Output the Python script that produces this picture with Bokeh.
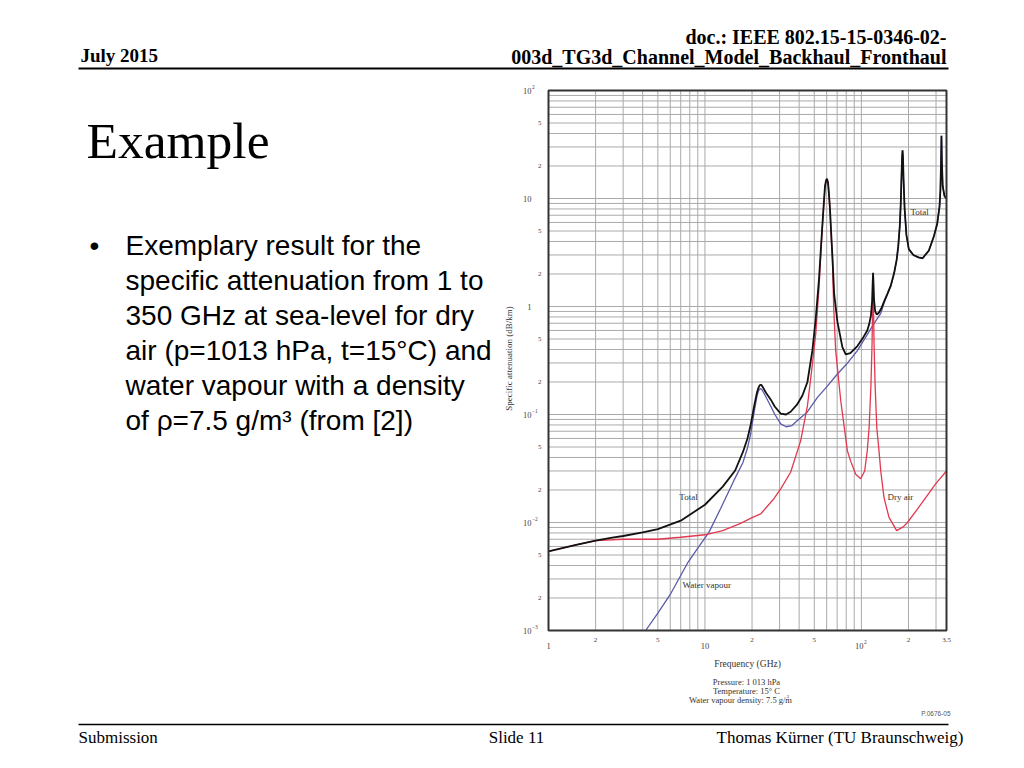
import math
from bokeh.plotting import figure
from bokeh.models import Range1d, LinearScale
from bokeh.core.properties import value
from bokeh.embed import file_html
from bokeh.resources import INLINE

# ---------------- data ----------------
dry_freq = [1, 1.5, 2, 3, 5, 7, 10, 13, 16.9, 20, 22.7, 27.6, 30.5, 35.3, 40.9,
            45.2, 48.6, 51.1, 53.6, 55, 56, 57.2, 58.5, 59.5, 60.3, 61.2, 62, 63,
            64, 65.3, 66.5, 68.5, 73.8, 81.4, 85.4, 92, 99, 105, 109, 112, 115,
            117, 118, 118.75, 119.5, 120.5, 122.5, 125.5, 129.6, 133, 139.4, 150,
            168, 185, 197, 230, 264, 300, 350]
dry_att = [0.0054, 0.0062, 0.0068, 0.0070, 0.0070, 0.0073, 0.0077, 0.0084, 0.0098,
           0.0111, 0.0120, 0.0166, 0.0205, 0.0292, 0.057, 0.12, 0.29, 0.56, 1.5,
           3.0, 4.8, 7.8, 12.5, 14.3, 14.9, 13.9, 11.0, 7.8, 4.8, 2.7, 1.0, 0.39,
           0.134, 0.046, 0.037, 0.028, 0.0254, 0.030, 0.046, 0.075, 0.18, 0.45,
           1.0, 1.9, 1.0, 0.45, 0.18, 0.075, 0.046, 0.030, 0.0171, 0.0112, 0.0084,
           0.0091, 0.0100, 0.0135, 0.0178, 0.023, 0.030]

wv_freq = [4.18, 5, 6.05, 7.73, 9, 10.6, 12.6, 15.3, 17.5, 18.7, 19.6, 20.6, 21.5,
           22.0, 22.5, 22.9, 23.3, 24.5, 26.3, 28, 30.5, 33, 36, 39, 45, 52.4, 60,
           70.3, 80, 94.3, 109, 120, 132.8, 140, 146.6, 153.9, 162, 168, 172, 176,
           178.5, 180.5, 182, 183.3, 184.5, 186, 189, 194, 201, 215, 232, 246, 270,
           291, 305, 316, 320, 323, 325, 327, 331, 340, 350]
wv_att = [0.001, 0.00145, 0.0022, 0.0042, 0.0058, 0.0081, 0.0135, 0.0244, 0.036,
          0.049, 0.066, 0.104, 0.148, 0.165, 0.174, 0.173, 0.167, 0.146, 0.12,
          0.10, 0.082, 0.077, 0.079, 0.088, 0.105, 0.144, 0.18, 0.237, 0.29, 0.39,
          0.55, 0.69, 0.86, 1.09, 1.29, 1.53, 2.03, 2.68, 3.58, 5.58, 9.0, 16, 24,
          28, 24, 15, 8, 4.59, 3.39, 2.99, 2.84, 2.78, 3.28, 4.48, 5.78, 8.48, 12,
          22, 38, 22, 13, 10.47, 9.97]

tot_freq = [1, 1.5, 2, 2.5, 3, 4, 5, 7, 10, 13, 15.6, 17.5, 18.7, 19.6, 20.6, 21.5,
            22.0, 22.5, 22.9, 23.3, 24.5, 26.3, 28, 30.5, 33, 35.3, 39, 42, 45.2,
            48.6, 51, 53.6, 55, 56, 57.2, 58.5, 59.5, 60.3, 61.2, 62, 63, 64, 65.3,
            67, 70.3, 75.6, 79.4, 85, 94.3, 103, 109, 112, 115, 117, 118, 118.75,
            119.5, 120.5, 122.5, 125.5, 129.6, 135, 140, 146.6, 153.9, 162, 168,
            172, 176, 178.5, 180.5, 182, 183.3, 184.5, 186, 189, 194, 201, 215,
            232, 246, 270, 291, 305, 316, 320, 323, 325, 327, 331, 340, 350]
tot_att = [0.0054, 0.0062, 0.0068, 0.0072, 0.0075, 0.0081, 0.0087, 0.0104, 0.0146,
           0.0215, 0.0303, 0.045, 0.060, 0.080, 0.118, 0.16, 0.178, 0.188, 0.188,
           0.182, 0.16, 0.138, 0.118, 0.102, 0.100, 0.106, 0.125, 0.15, 0.20,
           0.39, 0.75, 1.8, 3.3, 5.0, 8.0, 13.0, 14.8, 15.2, 14.1, 11.2, 8.0, 5.0,
           2.9, 1.3, 0.72, 0.42, 0.36, 0.37, 0.43, 0.52, 0.60, 0.68, 0.82, 1.1,
           1.6, 2.05, 1.65, 1.15, 0.9, 0.84, 0.88, 0.98, 1.12, 1.31, 1.55, 2.05,
           2.7, 3.6, 5.6, 9.0, 16, 24, 28, 24, 15, 8.0, 4.6, 3.4, 3.0, 2.85, 2.8,
           3.3, 4.5, 5.8, 8.5, 12, 22, 38, 22, 13, 10.5, 10]

# axis ticks / labels
y_decades = [100, 10, 1, 0.1, 0.01, 0.001]
y_decade_text = ["10", "10", "1", "10", "10", "10"]
y_exp_vals = [100, 0.1, 0.01, 0.001]
y_exp_text = ["2", "\u22121", "\u22122", "\u22123"]
y_minor_vals = [50, 20, 5, 2, 0.5, 0.2, 0.05, 0.02, 0.005, 0.002]
y_minor_text = ["5", "2", "5", "2", "5", "2", "5", "2", "5", "2"]

x_decades = [1, 10]
x_decade_text = ["1", "10"]
x_minor_vals = [2, 5, 20, 50, 200, 350]
x_minor_text = ["2", "5", "2", "5", "2", "3.5"]
x_hundred = [100]
x_hundred_text = ["10"]
x_hundred_exp = ["2"]

F_MIN, F_MAX = 1, 350
A_MIN, A_MAX = 0.001, 100
x_grid = [m * 10 ** k for k in range(0, 3) for m in range(1, 10) if m * 10 ** k <= F_MAX]
y_grid = [m * 10.0 ** k for k in range(-3, 2) for m in range(1, 10)] + [A_MAX]

# ---------------- layout (page pixels) ----------------
W, H = 1008, 752
FL, FR, FT, FB = 548, 946, 90, 630   # chart plot area on the page

dec_x = (FR - FL) / math.log10(F_MAX / F_MIN)
dec_y = (FB - FT) / math.log10(A_MAX / A_MIN)
x_range = Range1d(F_MIN * 10 ** (-FL / dec_x), F_MIN * 10 ** ((W - FL) / dec_x))
y_range = Range1d(A_MIN * 10 ** (-(H - FB) / dec_y), A_MAX * 10 ** (FT / dec_y))

p = figure(width=W, height=H, x_axis_type="log", y_axis_type="log",
           x_range=x_range, y_range=y_range,
           x_axis_location=None, y_axis_location=None,
           output_backend="svg", toolbar_location=None,
           min_border_left=0, min_border_right=0, min_border_top=0, min_border_bottom=0)
p.xgrid.grid_line_color = None
p.ygrid.grid_line_color = None
p.outline_line_color = None
p.background_fill_color = "white"
p.border_fill_color = "white"

# page coordinate system for slide texts
p.extra_x_ranges = {"px": Range1d(0, W)}
p.extra_y_ranges = {"py": Range1d(H, 0)}
p.extra_x_scales = {"px": LinearScale()}
p.extra_y_scales = {"py": LinearScale()}

# chart grid
p.segment(x0=x_grid, x1=x_grid, y0=[A_MIN] * len(x_grid), y1=[A_MAX] * len(x_grid),
          line_color="#aaaaaa", line_width=1)
p.segment(x0=[F_MIN] * len(y_grid), x1=[F_MAX] * len(y_grid), y0=y_grid, y1=y_grid,
          line_color="#aaaaaa", line_width=1)

p.line(wv_freq, wv_att, line_color="#5a5aa8", line_width=1.3)
p.line(dry_freq, dry_att, line_color="#e2384f", line_width=1.3)
p.line(tot_freq, tot_att, line_color="#111111", line_width=1.8)

p.quad(left=[F_MIN], right=[F_MAX], bottom=[A_MIN], top=[A_MAX],
       fill_color=None, line_color="#333333", line_width=2)

SERIF = "Liberation Serif"
SANS = "Liberation Sans"
TICK_COL = "#444444"


def ticklabels(xs, ys, texts, size, align, xo=0, yo=0):
    p.text(x=xs, y=ys, text=texts, x_offset=xo, y_offset=yo,
           text_font=value(SERIF), text_font_size=value(f"{size}px"),
           text_align=value(align), text_baseline=value("middle"),
           text_color=TICK_COL)


ticklabels([F_MIN] * len(y_decades), y_decades, y_decade_text, 8.5, "right", xo=-17)
ticklabels([F_MIN] * len(y_exp_vals), y_exp_vals, y_exp_text, 5.5, "left", xo=-16.5, yo=-4)
ticklabels([F_MIN] * len(y_minor_vals), y_minor_vals, y_minor_text, 7, "right", xo=-7)
ticklabels(x_decades, [A_MIN] * len(x_decades), x_decade_text, 8.5, "center", yo=15)
ticklabels(x_minor_vals, [A_MIN] * len(x_minor_vals), x_minor_text, 7, "center", yo=9.5)
ticklabels(x_hundred, [A_MIN], x_hundred_text, 8.5, "right", xo=2, yo=15)
ticklabels(x_hundred, [A_MIN], x_hundred_exp, 5.5, "left", xo=2.5, yo=11)


def txt(s, X, Y, size, font=SERIF, style="normal", align="left",
        baseline="middle", color="#000000", angle=0.0):
    p.text(x=[X], y=[Y], text=[s], x_range_name="px", y_range_name="py",
           text_font=value(font), text_font_size=value(f"{size}px"),
           text_font_style=value(style), text_align=value(align),
           text_baseline=value(baseline), text_color=color, angle=angle)


def hline(X0, X1, Y, width=1.5):
    p.segment(x0=[X0], x1=[X1], y0=[Y], y1=[Y], x_range_name="px", y_range_name="py",
              line_color="#000000", line_width=width)


# chart annotations
txt("Total", 910, 211.5, 9, color="#333333")
txt("Total", 688, 496.5, 9, align="center", color="#333333")
txt("Dry air", 887, 496.5, 9, color="#333333")
txt("Water vapour", 682, 584, 9, color="#333333")
txt("Specific attenuation (dB/km)", 508, 358, 9, align="center", color="#333333",
    angle=math.pi / 2)
txt("Frequency (GHz)", 747, 663, 9.5, align="center", color="#333333")
txt("Pressure: 1 013 hPa", 746, 681, 8.5, align="center", color="#333333")
txt("Temperature: 15\u00b0 C", 746, 690, 8.5, align="center", color="#333333")
txt("Water vapour density: 7.5 g/m", 740, 699, 8.5, align="center", color="#333333")
txt("3", 786, 695.5, 5, color="#333333")
txt("P.0676-05", 950, 713, 6.5, font=SANS, align="right", color="#555555")

# slide header / footer / body
txt("doc.: IEEE 802.15-15-0346-02-", 946, 36, 20, style="bold", align="right")
txt("003d_TG3d_Channel_Model_Backhaul_Fronthaul", 946, 56.5, 20, style="bold", align="right")
txt("July 2015", 80, 55, 19, style="bold")
hline(78, 948, 68, 1.8)
txt("Example", 86, 140, 51.5)

bullet_lines = ["Exemplary result for the",
                "specific attenuation from 1 to",
                "350 GHz at sea-level for dry",
                "air (p=1013 hPa, t=15\u00b0C) and",
                "water vapour with a density",
                "of \u03c1=7.5 g/m\u00b3 (from [2])"]
txt("\u2022", 89, 245, 28, font=SANS)
for i, line in enumerate(bullet_lines):
    txt(line, 125, 245 + 35 * i, 28, font=SANS)

hline(78, 948, 724, 1.5)
txt("Submission", 78, 737, 17)
txt("Slide 11", 516, 737, 17, align="center")
txt("Thomas K\u00fcrner (TU Braunschweig)", 963, 737, 17, align="right")

open("out.html", "w").write(file_html(p, INLINE))
